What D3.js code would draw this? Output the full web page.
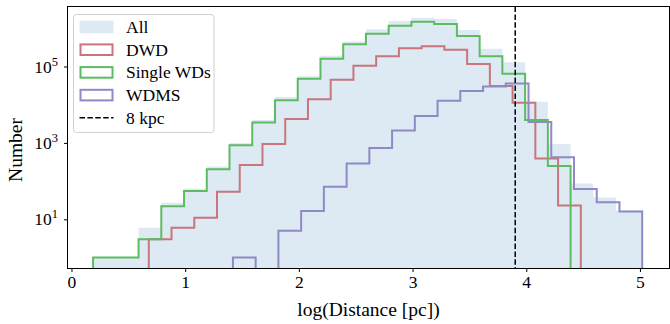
<!DOCTYPE html>
<html><head><meta charset="utf-8">
<script src="https://cdn.jsdelivr.net/npm/d3@7"></script>
<style>
html,body{margin:0;padding:0;background:#fff;}
svg{display:block;}
text{font-family:"Liberation Serif","Times New Roman",serif;fill:#000;}
</style></head>
<body>
<svg id="chart" width="670" height="324"></svg>
<script>
// ---- data ----
const allEdges = [0.19,0.39,0.59,0.79,0.99,1.19,1.39,1.59,1.79,1.99,2.19,2.39,2.59,2.79,2.99,3.19,3.39,3.59,3.79,3.99,4.19,4.39,4.59,4.79,5.02];
const allCounts = [1,1,6,27,63,240,1000,4000,16000,56000,190000,450000,950000,1550000,1900000,1740000,910000,290000,129000,12000,930,87,37,17];

const singleEdges = [0.19,0.39,0.59,0.79,0.99,1.19,1.39,1.59,1.79,1.99,2.19,2.39,2.59,2.79,2.99,3.19,3.39,3.59,3.79,3.99,4.19,4.39];
const singleCounts = [1,1,3,22,55,205,870,3400,13000,48000,160000,380000,725000,1175000,1480000,1290000,630000,186000,65000,4000,250];

const dwdEdges = [0.68,0.88,1.08,1.28,1.48,1.68,1.88,2.08,2.28,2.48,2.68,2.88,3.08,3.28,3.48,3.68,3.88,4.08,4.28,4.48];
const dwdCounts = [3,6,11,53,263,930,4200,14000,45000,105000,186000,300000,340000,275000,117000,31000,11200,390,23];

const wdmsEdges = [1.42,1.62,1.82,2.02,2.22,2.42,2.62,2.82,3.02,3.22,3.42,3.62,3.82,4.02,4.22,4.42,4.62,4.82,5.02];
const wdmsCounts = [1,0,5,16.5,71,290,740,2100,5100,12600,23000,30000,36000,3550,420,62,28,16];

const xTicks = [0,1,2,3,4,5];
const yTickExps = [1,3,5];
const vline = 3.903; // log10(8000)
const legendLabels = ["All","DWD","Single WDs","WDMS","8 kpc"];

// ---- layout ----
const L = 67.5, R = 669.5, T = 6.5, B = 268.5;
const svg = d3.select("#chart");
const x = d3.scaleLinear().domain([-0.035, 5.26]).range([L, R]);
const y = d3.scaleLog().domain([Math.pow(10,-0.288), Math.pow(10,6.571)]).range([B, T]);

const colAll = "rgb(221,234,244)";
const colDWD = "rgb(200,118,123)";
const colSingle = "rgb(92,188,98)";
const colWDMS = "rgb(143,137,198)";

svg.append("clipPath").attr("id","clip").append("rect")
  .attr("x",L).attr("y",T).attr("width",R-L).attr("height",B-T);

function yv(v){ return v>0 ? Math.min(B, y(v)) : B+2; }
function stepPath(edges, counts){
  const p = d3.path();
  p.moveTo(x(edges[0]), B+2);
  for(let i=0;i<counts.length;i++){
    p.lineTo(x(edges[i]), yv(counts[i]));
    p.lineTo(x(edges[i+1]), yv(counts[i]));
  }
  p.lineTo(x(edges[edges.length-1]), B+2);
  return p.toString();
}

const g = svg.append("g").attr("clip-path","url(#clip)");
g.append("path").attr("d", stepPath(allEdges, allCounts)+"Z").attr("fill", colAll).attr("stroke","none");
[[dwdEdges,dwdCounts,colDWD],[singleEdges,singleCounts,colSingle],[wdmsEdges,wdmsCounts,colWDMS]].forEach(([e,c,col])=>{
  g.append("path").attr("d", stepPath(e,c)).attr("fill","none").attr("stroke",col)
   .attr("stroke-width",2).attr("stroke-linejoin","miter");
});
g.append("line").attr("x1",x(vline)).attr("x2",x(vline)).attr("y1",T).attr("y2",B)
  .attr("stroke","#000").attr("stroke-width",1.5).attr("stroke-dasharray","5.5,2.4");

// frame
svg.append("rect").attr("x",L).attr("y",T).attr("width",R-L).attr("height",B-T)
  .attr("fill","none").attr("stroke","#000").attr("stroke-width",1);

// x axis
const xAxis = d3.axisBottom(x).tickValues(xTicks).tickSize(3.5).tickPadding(4).tickFormat(d3.format("d"));
const xg = svg.append("g").attr("transform",`translate(0,${B})`).call(xAxis);
xg.select(".domain").remove();
xg.selectAll("text").style("font-family","Liberation Serif").style("font-size","17.5px").attr("fill","#000");

// y axis
const yAxis = d3.axisLeft(y).tickValues(yTickExps.map(e=>Math.pow(10,e))).tickSize(3.5).tickFormat("");
const yg = svg.append("g").attr("transform",`translate(${L},0)`).call(yAxis);
yg.select(".domain").remove();
yTickExps.forEach(e=>{
  const t = svg.append("text").attr("x",58).attr("y",y(Math.pow(10,e))+6).attr("text-anchor","end");
  t.append("tspan").text("10").style("font-size","17.5px");
  t.append("tspan").text(String(e)).attr("dy",-7).style("font-size","12.5px");
});

svg.append("text").attr("x",(L+R)/2).attr("y",316).attr("text-anchor","middle")
  .style("font-size","19.5px").text("log(Distance [pc])");
svg.append("text").attr("transform",`translate(22,150) rotate(-90)`).attr("text-anchor","middle")
  .style("font-size","19.5px").text("Number");

// legend
const lg = svg.append("g");
lg.append("rect").attr("x",73.5).attr("y",14.5).attr("width",140.5).attr("height",118).attr("rx",3)
  .attr("fill","#fff").attr("fill-opacity",0.85).attr("stroke","#d0d0d0").attr("stroke-width",1);
const rowY = [27,49.7,72.4,95.1,117.8];
const styles = [
  {type:"fill", col:colAll},
  {type:"box", col:colDWD},
  {type:"box", col:colSingle},
  {type:"box", col:colWDMS},
  {type:"dash", col:"#000"}
];
legendLabels.forEach((lab,i)=>{
  const s = styles[i], cy = rowY[i];
  if(s.type==="fill"){
    lg.append("rect").attr("x",79.5).attr("y",cy-6.3).attr("width",34).attr("height",12.6).attr("fill",s.col);
  } else if(s.type==="box"){
    lg.append("rect").attr("x",80.5).attr("y",cy-5.3).attr("width",32).attr("height",10.6)
      .attr("fill","none").attr("stroke",s.col).attr("stroke-width",2);
  } else {
    lg.append("line").attr("x1",79.5).attr("x2",113.5).attr("y1",cy).attr("y2",cy)
      .attr("stroke","#000").attr("stroke-width",1.5).attr("stroke-dasharray","5.5,2.4");
  }
  lg.append("text").attr("x",126).attr("y",cy+5.8).style("font-size","17.5px").text(lab);
});
</script>
</body></html>
